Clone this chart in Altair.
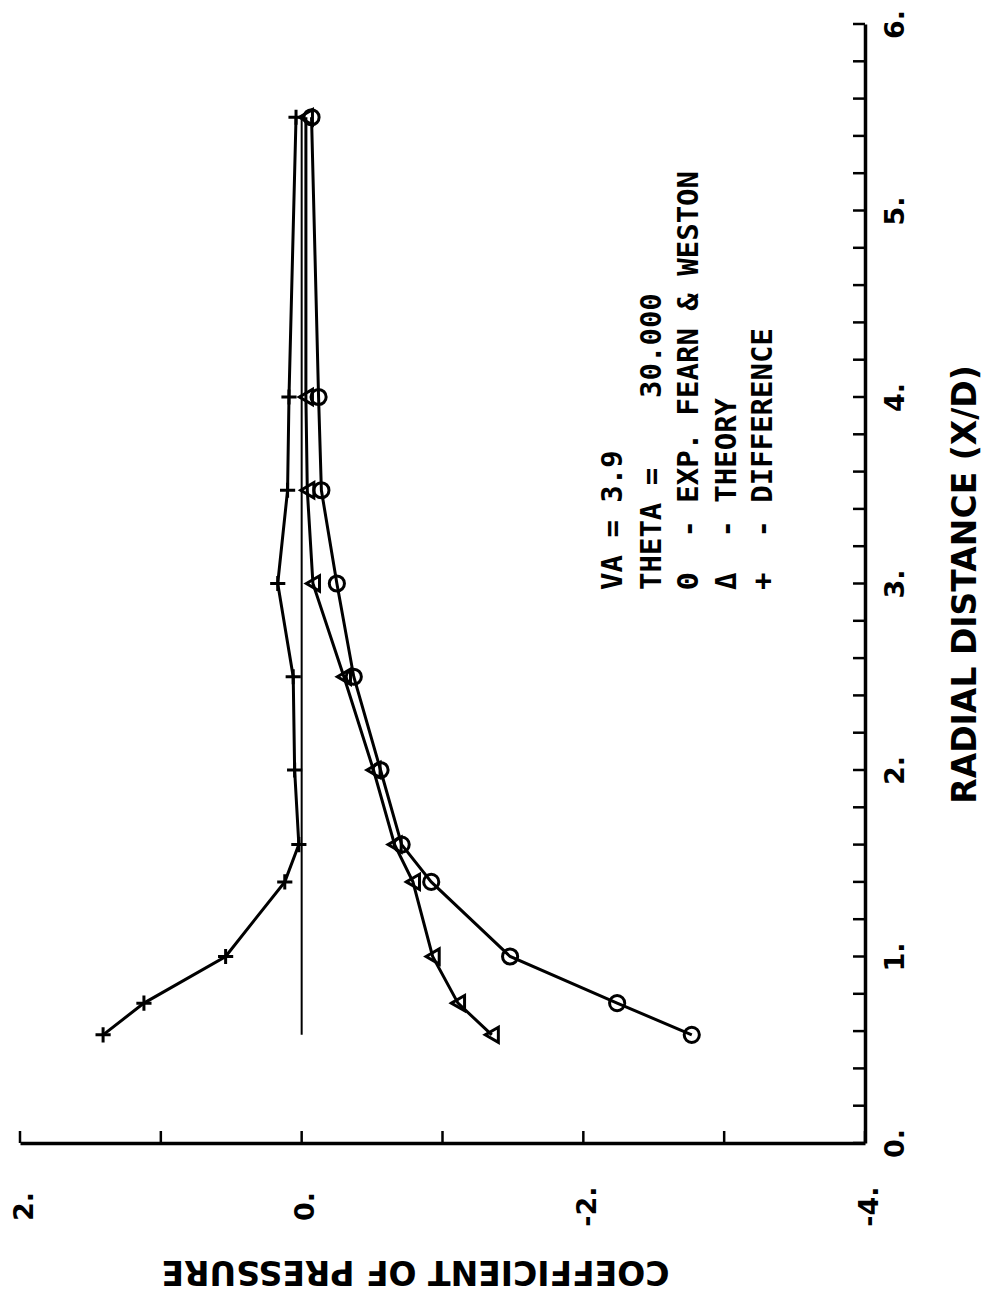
import altair as alt
import pandas as pd

# ---- data ----
radial = [0.58, 0.75, 1.0, 1.4, 1.6, 2.0, 2.5, 3.0, 3.5, 4.0, 5.5]
cp_exp = [-2.77, -2.24, -1.48, -0.92, -0.71, -0.56, -0.37, -0.25, -0.14, -0.12, -0.07]
cp_theory = [-1.35, -1.11, -0.93, -0.79, -0.66, -0.51, -0.30, -0.08, -0.04, -0.03, -0.03]
cp_diff = [1.41, 1.12, 0.54, 0.12, 0.02, 0.05, 0.06, 0.17, 0.10, 0.09, 0.04]
series_names = ["EXP. FEARN & WESTON", "THEORY", "DIFFERENCE"]

zero_r = [0.58, 5.5]
zero_cp = [0.0, 0.0]

cp_ticks = [2, 1, 0, -1, -2, -3, -4]
cp_labels = [2, 0, -2, -4]
r_ticks = [0.0, 0.2, 0.4, 0.6, 0.8, 1.0, 1.2, 1.4, 1.6, 1.8, 2.0, 2.2, 2.4, 2.6,
           2.8, 3.0, 3.2, 3.4, 3.6, 3.8, 4.0, 4.2, 4.4, 4.6, 4.8, 5.0, 5.2, 5.4,
           5.6, 5.8, 6.0]
r_labels = [0, 1, 2, 3, 4, 5, 6]

NB = "\u00a0"
legend_lines = [
    "VA = 3.9",
    "THETA =" + NB * 4 + "30.000",
    "\u0398" + NB * 2 + "- EXP. FEARN & WESTON",
    "\u0394" + NB * 2 + "- THEORY",
    "+" + NB * 2 + "- DIFFERENCE",
]

# ---- tables ----
rows = []
for name, vals in zip(series_names, [cp_exp, cp_theory, cp_diff]):
    for r, v in zip(radial, vals):
        rows.append({"series": name, "r": r, "cp": v})
df = pd.DataFrame(rows)
zero_df = pd.DataFrame({"r": zero_r, "cp": zero_cp})

W, H = 845, 1119
FONT = "DejaVu Sans"
MONO = "DejaVu Sans Mono"

xscale = alt.Scale(domain=[2, -4], nice=False, zero=False)
yscale = alt.Scale(domain=[0, 6], nice=False, zero=False)

x_axis = alt.Axis(
    values=cp_labels, labelExpr="datum.value + '.'", grid=False,
    ticks=False, tickSize=0, domainWidth=3.5, domainColor="black",
    labelFont=FONT, labelFontWeight="bold", labelFontSize=27, labelColor="black",
    labelAngle=270, labelAlign="center", labelBaseline="middle", labelPadding=63,
    labelOffset=4, labelFlush=False, labelOverlap=False,
    title="COEFFICIENT OF PRESSURE", titleFont=FONT, titleFontWeight="bold",
    titleFontSize=33, titleColor="black", titleAngle=180, titleX=395, titleY=127,
    titleAlign="center", titleBaseline="middle",
)
y_axis = alt.Axis(
    orient="right", values=r_labels, labelExpr="datum.value + '.'", grid=False,
    ticks=False, tickSize=0, domainWidth=3.5, domainColor="black",
    labelFont=FONT, labelFontWeight="bold", labelFontSize=27, labelColor="black",
    labelAngle=270, labelAlign="center", labelBaseline="middle", labelPadding=30,
    labelFlush=False, labelOverlap=False,
    title="RADIAL DISTANCE (X/D)", titleFont=FONT, titleFontWeight="bold",
    titleFontSize=33, titleColor="black", titleAngle=270, titleX=100, titleY=560,
    titleAlign="center", titleBaseline="middle",
)

X = alt.X("cp:Q", scale=xscale, axis=x_axis)
Y = alt.Y("r:Q", scale=yscale, axis=y_axis)
Xn = alt.X("cp:Q", scale=xscale)
Yn = alt.Y("r:Q", scale=yscale)

zero_line = alt.Chart(zero_df).mark_line(color="black", strokeWidth=2).encode(
    x=X, y=Y, order="r:Q"
)

lines = alt.Chart(df).mark_line(color="black", strokeWidth=3).encode(
    x=Xn, y=Yn, detail="series:N", order="r:Q"
)

plus_path = "M-1,0L1,0M0,-1L0,1"
points = alt.Chart(df).mark_point(
    filled=False, color="black", strokeWidth=3, size=230, opacity=1
).encode(
    x=Xn, y=Yn,
    shape=alt.Shape("series:N", scale=alt.Scale(domain=series_names,
                    range=["circle", "triangle-left", plus_path]), legend=None),
)

bottom_ticks = alt.Chart(pd.DataFrame({"cp": cp_ticks})).mark_rule(
    color="black", strokeWidth=2.5
).encode(x=Xn, y=alt.value(H), y2=alt.value(H - 12))

right_ticks = alt.Chart(pd.DataFrame({"r": r_ticks})).mark_rule(
    color="black", strokeWidth=2.5
).encode(y=Yn, x=alt.value(W), x2=alt.value(W - 12))

leg_x = [593, 632, 669, 707, 743]
legend_layers = []
for line, xx in zip(legend_lines, leg_x):
    legend_layers.append(
        alt.Chart(pd.DataFrame({"t": [line]})).mark_text(
            angle=270, align="left", baseline="middle", font=MONO,
            fontSize=29, fontWeight="bold", color="black"
        ).encode(x=alt.value(xx), y=alt.value(566), text="t:N")
    )

chart = alt.layer(zero_line, lines, points, bottom_ticks, right_ticks, *legend_layers).properties(
    width=W, height=H,
    padding={"left": 12, "top": 16, "right": 118, "bottom": 157},
    autosize=alt.AutoSizeParams(type="none"),
    background="white",
).configure_view(stroke=None)

chart.save("out.html", embed_options={"renderer": "svg", "actions": False})
